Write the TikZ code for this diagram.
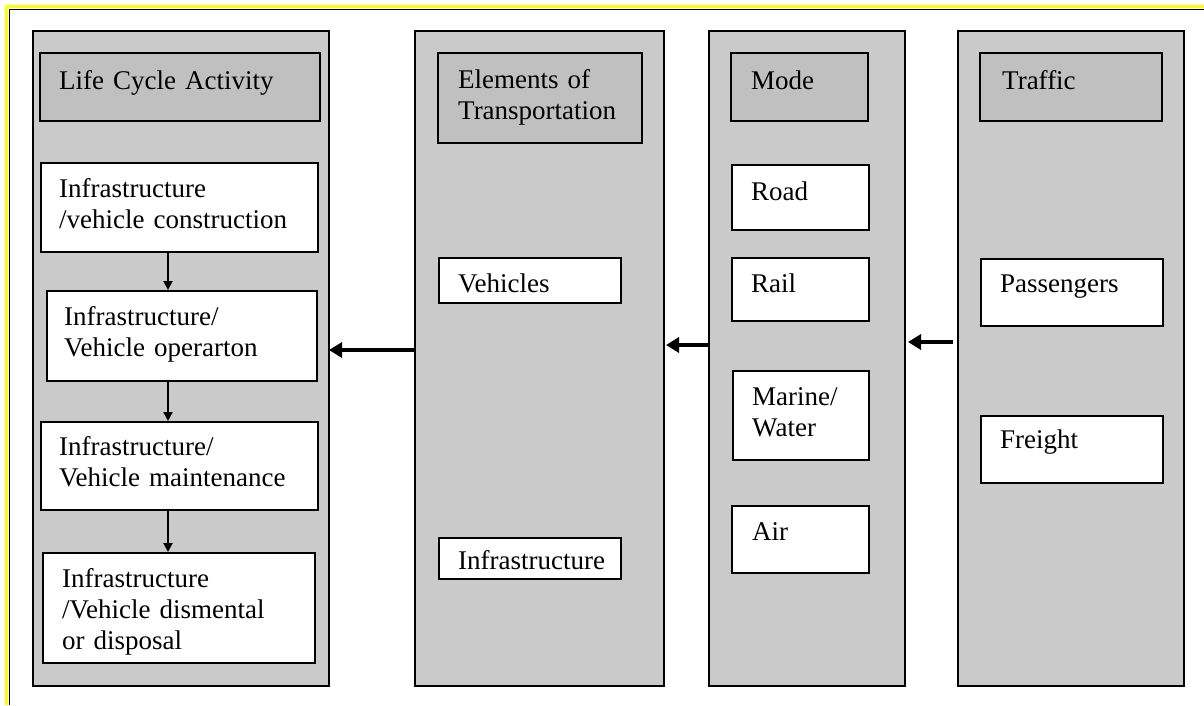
\documentclass[tikz,border=0pt]{standalone}
\usepackage{fontspec}
\setmainfont{Liberation Serif}
\usetikzlibrary{arrows.meta}
\definecolor{panelgray}{HTML}{CACACA}
\definecolor{headgray}{HTML}{C0C0C0}
\definecolor{framey}{HTML}{FFFF00}
\tikzset{
  panel/.style={draw=black, line width=2pt, fill=panelgray},
  headbox/.style={draw=black, line width=2pt, fill=headgray},
  whitebox/.style={draw=black, line width=2pt, fill=white},
  lbl/.style={anchor=base west, inner sep=0pt, text width=300pt, align=left,
    font=\fontsize{27}{31}\selectfont},
  bigarrow/.style={line width=3.5pt, -{Triangle[length=13pt, width=15pt]}},
  smallarrow/.style={line width=2pt, -{Triangle[length=9pt, width=9pt]}}
}
\begin{document}
\begin{tikzpicture}[x=1pt, y=-1pt]
\useasboundingbox (0,0) rectangle (1204,705);
% page frame
\draw[framey, line width=2.2pt] (6.5,705) -- (6.5,6.5) -- (1204,6.5);
\draw[black, line width=1.5pt] (9.5,705) -- (9.5,9.5) -- (1204,9.5);

% columns
\path[panel] (33,31) rectangle (329,686);
\path[panel] (415,31) rectangle (664,686);
\path[panel] (709,31) rectangle (905,686);
\path[panel] (958,31) rectangle (1184,686);
\coordinate (c1e) at (329,350);
\coordinate (c2w) at (415,350);
\coordinate (c2e) at (666,345);
\coordinate (c3w) at (708,345);
\coordinate (c3e) at (908,342);
\coordinate (c4w) at (953,342);

% headers
\path[headbox] (40,53) rectangle (320,121);
\path[headbox] (438,53) rectangle (642,143);
\path[headbox] (731,53) rectangle (868,121);
\path[headbox] (980,53) rectangle (1162,121);
\node[lbl] (h1) at (59,89) {Life Cycle Activity};
\node[lbl] (h2) at (458,88) {Elements of\\Transportation};
\node[lbl] (h3) at (751,89) {Mode};
\node[lbl] (h4) at (1002,89) {Traffic};

% life cycle activities
\node[whitebox, anchor=north west, minimum width=277pt, minimum height=89pt, inner sep=0pt] (b1) at (40,162) {};
\node[whitebox, anchor=north west, minimum width=270pt, minimum height=90pt, inner sep=0pt] (b2) at (46,290) {};
\node[whitebox, anchor=north west, minimum width=277pt, minimum height=88pt, inner sep=0pt] (b3) at (40,421) {};
\node[whitebox, anchor=north west, minimum width=272pt, minimum height=110pt, inner sep=0pt] (b4) at (42,552) {};
\node[lbl] (t1) at (59,197) {Infrastructure\\/vehicle construction};
\node[lbl] (t2) at (64,325) {Infrastructure/\\Vehicle operarton};
\node[lbl] (t3) at (59,455) {Infrastructure/\\Vehicle maintenance};
\begin{scope}
\clip (b4.north west) rectangle (b4.south east);
\node[lbl] (t4) at (62,587) {Infrastructure\\/Vehicle dismental\\or disposal};
\end{scope}
\draw[smallarrow] (b1.south -| 168,0) -- (b2.north -| 168,0);
\draw[smallarrow] (b2.south -| 168,0) -- (b3.north -| 168,0);
\draw[smallarrow] (b3.south -| 168,0) -- (b4.north -| 168,0);

% elements
\node[whitebox, anchor=north west, minimum width=182pt, minimum height=45pt, inner sep=0pt] (veh) at (438,257) {};
\node[whitebox, anchor=north west, minimum width=182pt, minimum height=41pt, inner sep=0pt] (inf) at (438,537) {};
\node[lbl] (tveh) at (458,292) {Vehicles};
\node[lbl] (tinf) at (458,569) {Infrastructure};

% modes
\node[whitebox, anchor=north west, minimum width=137pt, minimum height=65pt, inner sep=0pt] (road) at (731,164) {};
\node[whitebox, anchor=north west, minimum width=137pt, minimum height=63pt, inner sep=0pt] (rail) at (731,257) {};
\node[whitebox, anchor=north west, minimum width=136pt, minimum height=89pt, inner sep=0pt] (marine) at (732,370) {};
\node[whitebox, anchor=north west, minimum width=137pt, minimum height=67pt, inner sep=0pt] (air) at (731,505) {};
\node[lbl] (troad) at (751,200) {Road};
\node[lbl] (trail) at (751,292) {Rail};
\node[lbl] (tmarine) at (752,405) {Marine/\\Water};
\node[lbl] (tair) at (752,540) {Air};

% traffic
\node[whitebox, anchor=north west, minimum width=182pt, minimum height=67pt, inner sep=0pt] (pas) at (980,258) {};
\node[whitebox, anchor=north west, minimum width=182pt, minimum height=67pt, inner sep=0pt] (fre) at (980,415) {};
\node[lbl] (tpas) at (1000,292) {Passengers};
\node[lbl] (tfre) at (1000,448) {Freight};

% flow between columns
\draw[bigarrow] (c2w) -- (c1e);
\draw[bigarrow] (c3w) -- (c2e);
\draw[bigarrow] (c4w) -- (c3e);
\end{tikzpicture}
\end{document}
